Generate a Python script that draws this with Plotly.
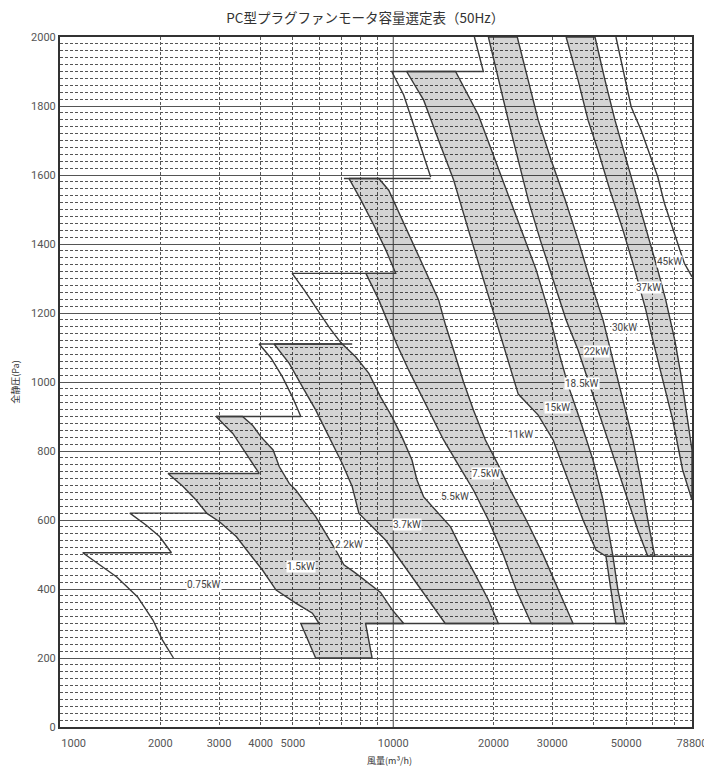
import numpy as np
import plotly.graph_objects as go

# ---------------- data (airflow m3/h, static pressure Pa) ----------------
x_tickvals = [1000, 2000, 3000, 4000, 5000, 10000, 20000, 30000, 50000, 78800]
x_ticktext = ["\u00a0" * 10 + "1000", "2000", "3000", "4000", "5000", "10000", "20000", "30000", "50000", "78800"]
x_minor = [2000, 3000, 4000, 5000, 6000, 7000, 8000, 9000,
           20000, 30000, 40000, 50000, 60000, 70000]

# gray band 1.5kW
g15_q = [2940, 3300, 3615, 3960, 2110, 2340, 2560, 2760, 3009, 3380, 3700, 4050, 4450, 5100, 5720, 5990,
         5280, 5850, 8640, 8260, 10750, 9920, 9160, 8450, 7710, 7110, 6720, 6270, 5850, 5460, 5100, 4873,
         4548, 4360, 4010, 3780, 3530, 2940]
g15_p = [900, 851, 793, 735, 735, 697, 658, 619, 595, 552, 503, 455, 397, 359, 330, 300,
         300, 200, 200, 300, 300, 340, 390, 417, 446, 470, 513, 561, 610, 648, 687, 706,
         755, 803, 841, 875, 900, 900]

# gray band 3.7kW
g37_q = [4390, 4873, 5340, 5850, 6340, 7030, 7530, 7890, 8640, 9480, 10150, 11380, 12770, 14320,
         20670, 19300, 17770, 16250, 14860, 13680, 12340, 11780, 11380, 10620, 9920, 9160, 8450,
         7710, 7030, 4390]
g37_p = [1110, 1054, 986, 919, 851, 764, 697, 619, 581, 542, 503, 436, 368, 300,
         300, 368, 435, 504, 580, 620, 667, 716, 774, 841, 899, 957, 1025,
         1073, 1110, 1110]

# gray band 7.5kW
g75_q = [7362, 7995, 8740, 9500, 10170, 8280, 9051, 9694, 10240, 11120, 11920, 12950, 14160, 15700,
         17400, 19300, 21400, 23400, 25950,
         34640, 31250, 28180, 25070, 22450, 20670, 18900, 17400, 16250, 15170, 14350, 13680, 12590,
         11510, 10530, 9694, 9051, 7362]
g75_p = [1590, 1528, 1455, 1383, 1315, 1315, 1238, 1165, 1110, 1035, 977, 904, 832, 759,
         687, 600, 499, 397, 300,
         300, 397, 499, 600, 687, 759, 832, 919, 1000, 1093, 1165, 1238, 1315,
         1397, 1484, 1556, 1590, 1590]

# gray band 15kW
g150_q = [10970, 12340, 13680, 15170, 16810, 18640, 20670, 22930, 23720, 27230, 30190, 33470, 37120,
          40590, 43480, 46590,
          49560, 47230, 45630, 42600, 39760, 36360, 33470, 31250, 29170, 26850, 24550, 22140, 19970,
          18010, 15380, 10970]
g150_p = [1900, 1817, 1701, 1586, 1441, 1296, 1151, 1006, 965, 904, 832, 716, 600,
          513, 495, 300,
          300, 397, 495, 658, 774, 890, 991, 1093, 1209, 1325, 1426, 1542, 1658,
          1774, 1900, 1900]

# gray band 22kW
g220_q = [19300, 20670, 22140, 23720, 25420, 27610, 30190, 33020, 35860, 38420, 41150, 44090, 47230,
          50580, 54190, 58050,
          60920, 58050, 55330, 52360, 48880, 45630, 42600, 38950, 35860, 32800, 29780, 27230, 25420,
          23560, 19300]
g220_p = [2000, 1875, 1759, 1643, 1528, 1412, 1296, 1180, 1093, 1006, 919, 832, 745,
          658, 571, 495,
          495, 600, 716, 832, 948, 1064, 1180, 1296, 1412, 1528, 1643, 1759, 1875,
          2000, 2000]

# gray band 37kW
g370_q = [33020, 35860, 38420, 41150, 44700, 48880, 53090, 57270, 60080, 64370, 68980, 73870, 78800,
          78800, 75410, 72860, 69930, 65710, 62190, 58050, 54190, 49900, 46270, 43190, 40310, 33020]
g370_p = [2000, 1875, 1759, 1672, 1556, 1441, 1325, 1209, 1122, 1006, 890, 745, 658,
          803, 928, 1026, 1122, 1238, 1325, 1426, 1528, 1643, 1759, 1875, 2000, 2000]

# outline lines (fan limits)
la_q = [2160, 1170, 1480, 1710, 1900, 2030, 2190]          # fan A
la_p = [505, 505, 435, 377, 310, 252, 200]
lb_q = [2760, 1620, 1815, 1990, 2160]                      # fan B
lb_p = [620, 620, 585, 552, 505]
ld_q = [5280, 2940]                                        # fan D top
ld_p = [900, 900]
le_q = [7530, 3960, 4300, 4650, 4980, 5280]                # fan E
le_p = [1110, 1110, 1069, 1015, 957, 900]
lf_q = [10170, 4973, 5402, 5906, 6417, 7015]               # fan F
lf_p = [1315, 1315, 1267, 1209, 1159, 1110]
lg_q = [7112, 12950]                                       # fan G top
lg_p = [1590, 1590]
lh_q = [17520, 18640, 9897, 10750, 11510, 12340, 12950]    # fan H
lh_p = [2000, 1900, 1900, 1832, 1745, 1658, 1594]
l45_q = [46590, 49450, 51750, 55440, 59390, 62190, 65120, 68170, 71370, 74730, 78800]   # 45kW limit
l45_p = [2000, 1885, 1798, 1730, 1652, 1595, 1518, 1460, 1402, 1344, 1305]
l300_q = [8260, 49560]
l300_p = [300, 300]
l500_q = [43480, 78800]
l500_p = [495, 495]

# capacity labels
lab_text = ["0.75kW", "1.5kW", "2.2kW", "3.7kW", "5.5kW", "7.5kW", "11kW", "15kW",
            "18.5kW", "22kW", "30kW", "37kW", "45kW"]
lab_q = [2710, 5280, 7360, 10970, 15280, 19040, 24050, 31030, 36860, 40600, 49560, 58460, 67540]
lab_p = [412, 465, 528, 586, 667, 736, 849, 925, 997, 1087, 1159, 1275, 1348]

# ---------------- figure ----------------
LINE = dict(color="#3a3a3a", width=1.4)
FILL = "rgba(0,0,0,0.17)"

fig = go.Figure()

fig.add_trace(go.Scatter(x=[10000, 10000], y=[0, 2000], mode="lines",
                         line=dict(color="#444", width=1), hoverinfo="skip", showlegend=False))

for q, p in [(g15_q, g15_p), (g37_q, g37_p), (g75_q, g75_p), (g150_q, g150_p),
             (g220_q, g220_p), (g370_q, g370_p)]:
    fig.add_trace(go.Scatter(x=q, y=p, mode="lines", fill="toself", fillcolor=FILL,
                             line=LINE, showlegend=False, hoverinfo="skip"))

for q, p in [(la_q, la_p), (lb_q, lb_p), (ld_q, ld_p), (le_q, le_p), (lf_q, lf_p), (lg_q, lg_p),
             (lh_q, lh_p), (l45_q, l45_p), (l300_q, l300_p), (l500_q, l500_p)]:
    fig.add_trace(go.Scatter(x=q, y=p, mode="lines", line=LINE, showlegend=False, hoverinfo="skip"))

for t, q, p in zip(lab_text, lab_q, lab_p):
    fig.add_annotation(x=np.log10(q), y=p, xref="x", yref="y", text=t, showarrow=False,
                       font=dict(size=10, color="#444", family="Roboto, DejaVu Sans"),
                       bgcolor="white", borderpad=0)

# x-axis title (placed slightly right of centre, as in the original)
fig.add_annotation(x=0.522, y=-0.048, xref="paper", yref="paper", text="風量(m³/h)",
                   showarrow=False, xanchor="center", yanchor="middle",
                   font=dict(size=9, color="#333", family="Noto Sans CJK JP"))

GRID = "#555"
fig.update_layout(
    width=704, height=763,
    margin=dict(l=52, r=20, t=29, b=44, autoexpand=False),
    paper_bgcolor="white", plot_bgcolor="white",
    title=dict(text="PC型プラグファンモータ容量選定表（50Hz）", x=0.483, xref="paper",
               y=0.9865, yref="container", xanchor="center", yanchor="middle",
               font=dict(size=13.5, color="#333", family="Noto Sans CJK JP")),
    xaxis=dict(type="log", range=[3, np.log10(78800)], tickvals=x_tickvals, ticktext=x_ticktext,
               automargin=False,
               showgrid=False, zeroline=False, showline=True, mirror=True, linewidth=2,
               linecolor="#333", ticks="outside", ticklen=5, tickcolor="rgba(0,0,0,0)",
               tickfont=dict(size=11, color="#555", family="Roboto, DejaVu Sans"),
               minor=dict(tickvals=x_minor, showgrid=True, gridcolor=GRID, gridwidth=0.8,
                          griddash="3px,2px", ticks="")),
    yaxis=dict(range=[0, 2000], dtick=200, showgrid=True, gridcolor=GRID, gridwidth=1,
               automargin=False,
               zeroline=False, showline=True, mirror=True, linewidth=2, linecolor="#333",
               tickfont=dict(size=11, color="#555", family="Roboto, DejaVu Sans"),
               title=dict(text="全静圧(Pa)", standoff=10,
                          font=dict(size=9, color="#333", family="Noto Sans CJK JP")),
               minor=dict(dtick=20, showgrid=True, gridcolor=GRID, gridwidth=0.8,
                          griddash="3px,2px")),
)

fig.write_html("out.html")
